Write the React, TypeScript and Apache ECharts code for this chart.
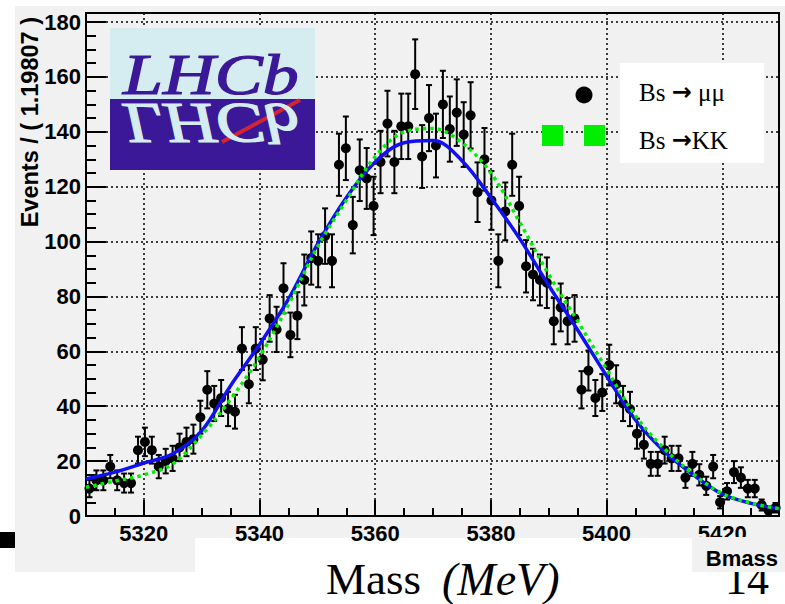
import React, { useEffect, useRef } from 'react';
import * as echarts from 'echarts';

// ---- data ----
const binWidth = 1.19807;
const xStart = 5310;
const nBins = 100;
const xEnd = xStart + nBins * binWidth;

const counts = [
  10, 13, 13, 18, 13, 12, 12, 24, 27, 24,
  18, 20, 21, 25, 27, 28, 36, 46, 41, 43,
  39, 38, 61, 48, 61, 57, 72, 68, 83, 66,
  73, 86, 94, 93, 102, 93, 128, 134, 106, 126,
  123, 113, 129, 143, 129, 142, 142, 161, 131, 145,
  135, 150, 141, 147, 139, 146, 118, 130, 115, 93,
  111, 128, 113, 91, 88, 86, 85, 71, 76, 71,
  72, 46, 53, 43, 45, 55, 48, 41, 39, 30,
  26, 19, 19, 24, 21, 21, 14, 19, 15, 11,
  18, 5, 9, 16, 14, 10, 10, 4, 2, 3,
];

const curveX = [
  5310, 5315, 5320, 5325, 5330, 5335, 5340, 5345, 5350, 5355, 5360, 5365, 5370,
  5375, 5380, 5385, 5390, 5395, 5400, 5405, 5410, 5415, 5420, 5425, 5430,
];
const fitMuMu = [
  13.5, 16, 19.3, 22.7, 31, 47.5, 62.5, 79, 99, 116, 129, 136, 136.8,
  129.5, 116, 101, 84, 67.8, 51, 35, 23.5, 15, 8, 4.6, 2.6,
];
const fitKK = [
  10.5, 12.7, 15, 19, 29.5, 42.5, 58, 77, 98, 115, 131, 140, 141.2,
  136, 125, 107, 88, 71, 53.5, 36.5, 24.5, 15.3, 8.2, 4.7, 2.6,
];

const yTickStep = 20;
const xTickStep = 20;
const yMax = 183.3;

const legendNames = [
  ['Bs ', '\u2192', ' \u03bc\u03bc'],
  ['Bs ', '\u2192', 'KK'],
];
const yTitle = 'Events / ( 1.19807 )';
const xVarName = 'Bmass';

export default function App() {
  const ref = useRef<HTMLDivElement>(null);

  useEffect(() => {
    if (!ref.current) return;
    const chart = echarts.init(ref.current, undefined, { renderer: 'svg' });

    const binCenters = counts.map((_, i) => xStart + (i + 0.5) * binWidth);
    const points = counts.map((c, i) => [binCenters[i], c]);
    const errs = counts.map((c, i) => [binCenters[i], c - Math.sqrt(c), c + Math.sqrt(c)]);
    const blue = curveX.map((x, i) => [x, fitMuMu[i]]);
    const green = curveX.map((x, i) => [x, fitKK[i]]);

    const sans = "'Liberation Sans', Arial, Helvetica, sans-serif";
    const serif = "'Liberation Serif', 'Times New Roman', serif";
    const logoLight = '#d5edf0';
    const logoDark = '#3b1897';

    const axisCommon = {
      axisLine: { show: true, onZero: false, lineStyle: { color: '#000', width: 2 } },
      splitLine: { show: true, lineStyle: { color: '#000', width: 1.5, type: [2, 3] } },
    };

    const legendRich = {
      t: { fontFamily: serif, fontSize: 25, color: '#000', fill: '#000' },
      a: { fontFamily: "'DejaVu Sans', sans-serif", fontSize: 24, fontWeight: 'bold', color: '#000', fill: '#000' },
    };

    chart.setOption({
      animation: false,
      backgroundColor: '#ffffff',
      grid: {
        left: 86, top: 13, width: 693, height: 503,
        show: true, borderColor: '#000', borderWidth: 2, backgroundColor: 'transparent',
      },
      xAxis: {
        type: 'value', min: xStart, max: xEnd, splitNumber: 6,
        ...axisCommon,
        axisTick: { show: true, inside: true, length: 16, lineStyle: { color: '#000', width: 2 } },
        minorTick: { show: true, splitNumber: 4, length: 8, lineStyle: { color: '#000', width: 2 } },
        axisLabel: {
          color: '#000', fontSize: 22, fontWeight: 'bold', fontFamily: sans, margin: 6,
          formatter: (v: number) => (Math.abs(v % xTickStep) < 1e-6 ? String(Math.round(v)) : ''),
        },
      },
      yAxis: {
        type: 'value', min: 0, max: yMax, interval: yTickStep,
        ...axisCommon,
        axisTick: { show: true, inside: true, length: 20, lineStyle: { color: '#000', width: 2 } },
        minorTick: { show: true, splitNumber: 4, length: 10, lineStyle: { color: '#000', width: 2 } },
        axisLabel: {
          color: '#000', fontSize: 22, fontWeight: 'bold', fontFamily: sans, margin: 5,
          formatter: (v: number) => (Math.abs(v % yTickStep) < 1e-6 ? String(Math.round(v)) : ''),
        },
      },
      series: [
        {
          type: 'custom',
          z: 3,
          clip: true,
          encode: { x: 0, y: [1, 2] },
          data: errs,
          renderItem: (params: any, api: any) => {
            const x = api.value(0);
            const lo = api.coord([x, api.value(1)]);
            const hi = api.coord([x, api.value(2)]);
            const hw = 3;
            const st = { stroke: '#000', lineWidth: 2 };
            return {
              type: 'group',
              children: [
                { type: 'line', shape: { x1: lo[0], y1: lo[1], x2: hi[0], y2: hi[1] }, style: st },
                { type: 'line', shape: { x1: lo[0] - hw, y1: lo[1], x2: lo[0] + hw, y2: lo[1] }, style: st },
                { type: 'line', shape: { x1: hi[0] - hw, y1: hi[1], x2: hi[0] + hw, y2: hi[1] }, style: st },
              ],
            };
          },
        },
        {
          type: 'scatter', z: 4, data: points, symbol: 'circle', symbolSize: 10,
          itemStyle: { color: '#000', opacity: 1 },
        },
        {
          type: 'line', z: 5, data: blue, smooth: 0.35, showSymbol: false, clip: true,
          lineStyle: { color: '#1010f0', width: 3.5 },
        },
        {
          type: 'line', z: 6, data: green, smooth: 0.35, showSymbol: false, clip: true,
          lineStyle: { color: '#00f000', width: 3.5, type: [3.5, 4] },
        },
      ],
      graphic: [
        // page backgrounds
        { type: 'rect', z: -20, silent: true, shape: { x: 15, y: 6, width: 770, height: 532 }, style: { fill: '#f1f1f1' } },
        { type: 'rect', z: -20, silent: true, shape: { x: 15, y: 537, width: 180, height: 35 }, style: { fill: '#f1f1f1' } },
        { type: 'rect', z: -20, silent: true, shape: { x: 0, y: 532, width: 15, height: 16 }, style: { fill: '#000' } },
        // y title
        {
          type: 'text', z: 10, x: 30, y: 17, rotation: Math.PI / 2,
          style: {
            text: yTitle, font: `bold 23.5px ${sans}`, fill: '#000',
            textAlign: 'right', align: 'right', textVerticalAlign: 'middle', verticalAlign: 'middle',
          },
        },
        // Mass (MeV) and page number
        {
          type: 'text', z: 10, x: 326, y: 579,
          style: { text: 'Mass', font: `45px ${serif}`, fill: '#000', verticalAlign: 'middle', textVerticalAlign: 'middle' },
        },
        {
          type: 'text', z: 10, x: 442, y: 579,
          style: { text: '(MeV)', font: `italic 46px ${serif}`, fill: '#000', verticalAlign: 'middle', textVerticalAlign: 'middle' },
        },
        {
          type: 'text', z: 10, x: 725, y: 579,
          style: { text: '14', font: `44px ${serif}`, fill: '#000', verticalAlign: 'middle', textVerticalAlign: 'middle' },
        },
        // Bmass box
        { type: 'rect', z: 12, silent: true, shape: { x: 692, y: 537, width: 93, height: 35 }, style: { fill: '#f1f1f1' } },
        {
          type: 'text', z: 13, x: 778, y: 558,
          style: {
            text: xVarName, font: `bold 22px ${sans}`, fill: '#000',
            textAlign: 'right', align: 'right', textVerticalAlign: 'middle', verticalAlign: 'middle',
          },
        },
        // LHCb logo
        { type: 'rect', z: 20, shape: { x: 110, y: 28, width: 205, height: 71 }, style: { fill: logoLight } },
        { type: 'rect', z: 20, shape: { x: 110, y: 99, width: 205, height: 71 }, style: { fill: logoDark } },
        {
          type: 'line', z: 21, shape: { x1: 222, y1: 142, x2: 300, y2: 100 },
          style: { stroke: '#e2262a', lineWidth: 4, opacity: 0.9 },
        },
        {
          type: 'text', z: 22, x: 123, y: 99, scaleX: 1.26, scaleY: 1,
          style: {
            text: 'LHCb', x: 0, y: -24, font: `italic 57px ${serif}`, fill: logoDark,
            stroke: logoDark, lineWidth: 1.2,
            verticalAlign: 'middle', textVerticalAlign: 'middle',
          },
        },
        {
          type: 'text', z: 22, x: 123, y: 99, scaleX: 1.26, scaleY: -1,
          style: {
            text: 'LHCb', x: 0, y: -24, font: `italic 57px ${serif}`, fill: logoLight,
            stroke: logoLight, lineWidth: 1.2,
            verticalAlign: 'middle', textVerticalAlign: 'middle',
          },
        },
        // legend
        { type: 'rect', z: 20, shape: { x: 620, y: 63, width: 144, height: 100 }, style: { fill: '#fff' } },
        { type: 'circle', z: 20, shape: { cx: 584, cy: 95, r: 8.5 }, style: { fill: '#000' } },
        { type: 'rect', z: 20, shape: { x: 542, y: 125, width: 21, height: 21 }, style: { fill: '#00ee00' } },
        { type: 'rect', z: 20, shape: { x: 584, y: 125, width: 21, height: 21 }, style: { fill: '#00ee00' } },
        {
          type: 'text', z: 21, x: 639, y: 92,
          style: {
            text: `{t|${legendNames[0][0]}}{a|${legendNames[0][1]}}{t|${legendNames[0][2]}}`,
            rich: legendRich, verticalAlign: 'middle', textVerticalAlign: 'middle',
          },
        },
        {
          type: 'text', z: 21, x: 639, y: 140,
          style: {
            text: `{t|${legendNames[1][0]}}{a|${legendNames[1][1]}}{t|${legendNames[1][2]}}`,
            rich: legendRich, verticalAlign: 'middle', textVerticalAlign: 'middle',
          },
        },
      ],
    });

    return () => chart.dispose();
  }, []);

  return (
    <div
      ref={ref}
      style={{ position: 'absolute', left: 0, top: 0, width: 785, height: 604 }}
    />
  );
}
